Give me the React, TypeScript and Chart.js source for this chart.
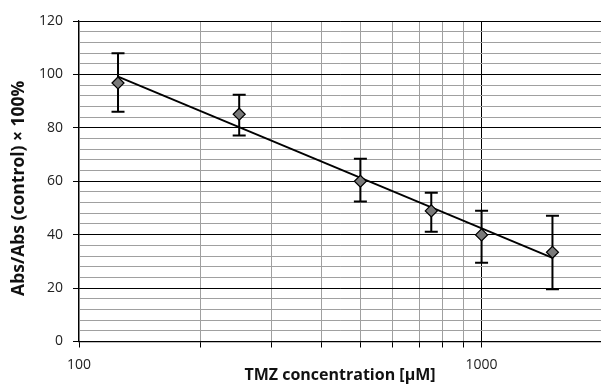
import React, { useEffect, useRef } from "react";
import { Chart, registerables } from "chart.js";

Chart.register(...registerables);

const concentrations = [125, 250, 500, 750, 1000, 1500];
const meanValues = [96.8, 85.1, 60.0, 48.9, 39.9, 33.4];
const errorHigh = [107.9, 92.4, 68.4, 55.7, 49.0, 47.1];
const errorLow = [86.0, 77.1, 52.4, 41.1, 29.5, 19.6];
const trendX = [125, 1500];
const trendY = [99.2, 31.3];
const xTicks = [100, 200, 300, 400, 500, 600, 700, 800, 900, 1000];
const xLabeled = [100, 1000];
const yTitle = "Abs/Abs (control) × 100%";
const xTitle = "TMZ concentration [μM]";

const FONT = "'Open Sans', 'Noto Sans', sans-serif";

const errorBarPlugin = {
  id: "errorBars",
  beforeDatasetsDraw(chart: any) {
    const ctx = chart.ctx;
    const xs = chart.scales.x;
    const ys = chart.scales.y;
    ctx.save();
    ctx.strokeStyle = "#000";
    ctx.lineWidth = 2;
    const cap = 6.5;
    concentrations.forEach((c, i) => {
      const px = xs.getPixelForValue(c);
      const pTop = ys.getPixelForValue(errorHigh[i]);
      const pBot = ys.getPixelForValue(errorLow[i]);
      ctx.beginPath();
      ctx.moveTo(px, pTop);
      ctx.lineTo(px, pBot);
      ctx.moveTo(px - cap, pTop);
      ctx.lineTo(px + cap, pTop);
      ctx.moveTo(px - cap, pBot);
      ctx.lineTo(px + cap, pBot);
      ctx.stroke();
    });
    ctx.restore();
  },
};

const yTitlePlugin = {
  id: "yTitle",
  afterDraw(chart: any) {
    const ctx = chart.ctx;
    const a = chart.chartArea;
    ctx.save();
    ctx.translate(19, (a.top + a.bottom) / 2 + 7);
    ctx.rotate(-Math.PI / 2);
    ctx.font = `bold 17.5px ${FONT}`;
    ctx.fillStyle = "#111";
    ctx.textAlign = "center";
    ctx.textBaseline = "middle";
    ctx.fillText(yTitle, 0, 0);
    ctx.restore();
  },
};

export default function App() {
  const ref = useRef<HTMLCanvasElement | null>(null);
  useEffect(() => {
    if (!ref.current) return;
    const chart = new Chart(ref.current, {
      type: "scatter",
      data: {
        datasets: [
          {
            data: concentrations.map((c, i) => ({ x: c, y: meanValues[i] })),
            pointStyle: "rectRot",
            pointRadius: 6,
            pointHoverRadius: 6,
            backgroundColor: "#7a7a7a",
            borderColor: "#000",
            borderWidth: 1.2,
            showLine: false,
          },
          {
            data: trendX.map((x, i) => ({ x, y: trendY[i] })),
            showLine: true,
            pointRadius: 0,
            borderColor: "#000",
            borderWidth: 1.8,
          },
        ],
      },
      options: {
        responsive: false,
        animation: false,
        layout: { autoPadding: false, padding: { top: 21, right: 0, left: 0, bottom: 0 } },
        plugins: { legend: { display: false }, tooltip: { enabled: false } },
        scales: {
          x: {
            type: "logarithmic",
            bounds: "data",
            min: 100,
            max: 1980,
            afterBuildTicks(scale: any) {
              scale.ticks = xTicks.map((v) => ({ value: v }));
            },
            afterFit(scale: any) {
              scale.height = 43.5;
              scale.paddingLeft = 0;
              scale.paddingRight = 0;
            },
            ticks: {
              autoSkip: false,
              maxRotation: 0,
              padding: 9,
              color: "#222",
              font: { family: FONT, size: 14 },
              callback: (v: any) => (xLabeled.includes(Number(v)) ? String(v) : ""),
            },
            grid: {
              color: (c: any) => (c.tick && c.tick.value === 1000 ? "#000" : "#a0a0a0"),
              lineWidth: 1,
              tickLength: 6,
              tickColor: "#000",
              drawTicks: true,
            },
            border: { color: "#000", width: 1.2 },
            title: {
              display: true,
              text: xTitle,
              color: "#111",
              align: "center",
              font: { family: FONT, size: 16, weight: "bold" },
              padding: { top: 0, bottom: 0 },
            },
          },
          y: {
            min: 0,
            max: 120,
            afterFit(scale: any) {
              scale.width = 79;
            },
            ticks: {
              stepSize: 4,
              autoSkip: false,
              padding: 10,
              color: "#222",
              font: { family: FONT, size: 14 },
              callback: (v: any) => (Number(v) % 20 === 0 ? String(v) : ""),
            },
            grid: {
              color: (c: any) => (c.tick && c.tick.value % 20 === 0 ? "#000" : "#a0a0a0"),
              lineWidth: 1,
              tickLength: 6,
              tickColor: (c: any) => (c.tick && c.tick.value % 20 === 0 ? "#000" : "rgba(0,0,0,0)"),
            },
            border: { color: "#000", width: 1.2 },
            title: { display: false },
          },
        },
      },
      plugins: [errorBarPlugin, yTitlePlugin],
    } as any);
    return () => chart.destroy();
  }, []);
  return (
    <div style={{ position: "fixed", left: 0, top: 0, width: 601, height: 385, background: "#fff" }}>
      <canvas ref={ref} width={601} height={385} style={{ display: "block" }} />
    </div>
  );
}
